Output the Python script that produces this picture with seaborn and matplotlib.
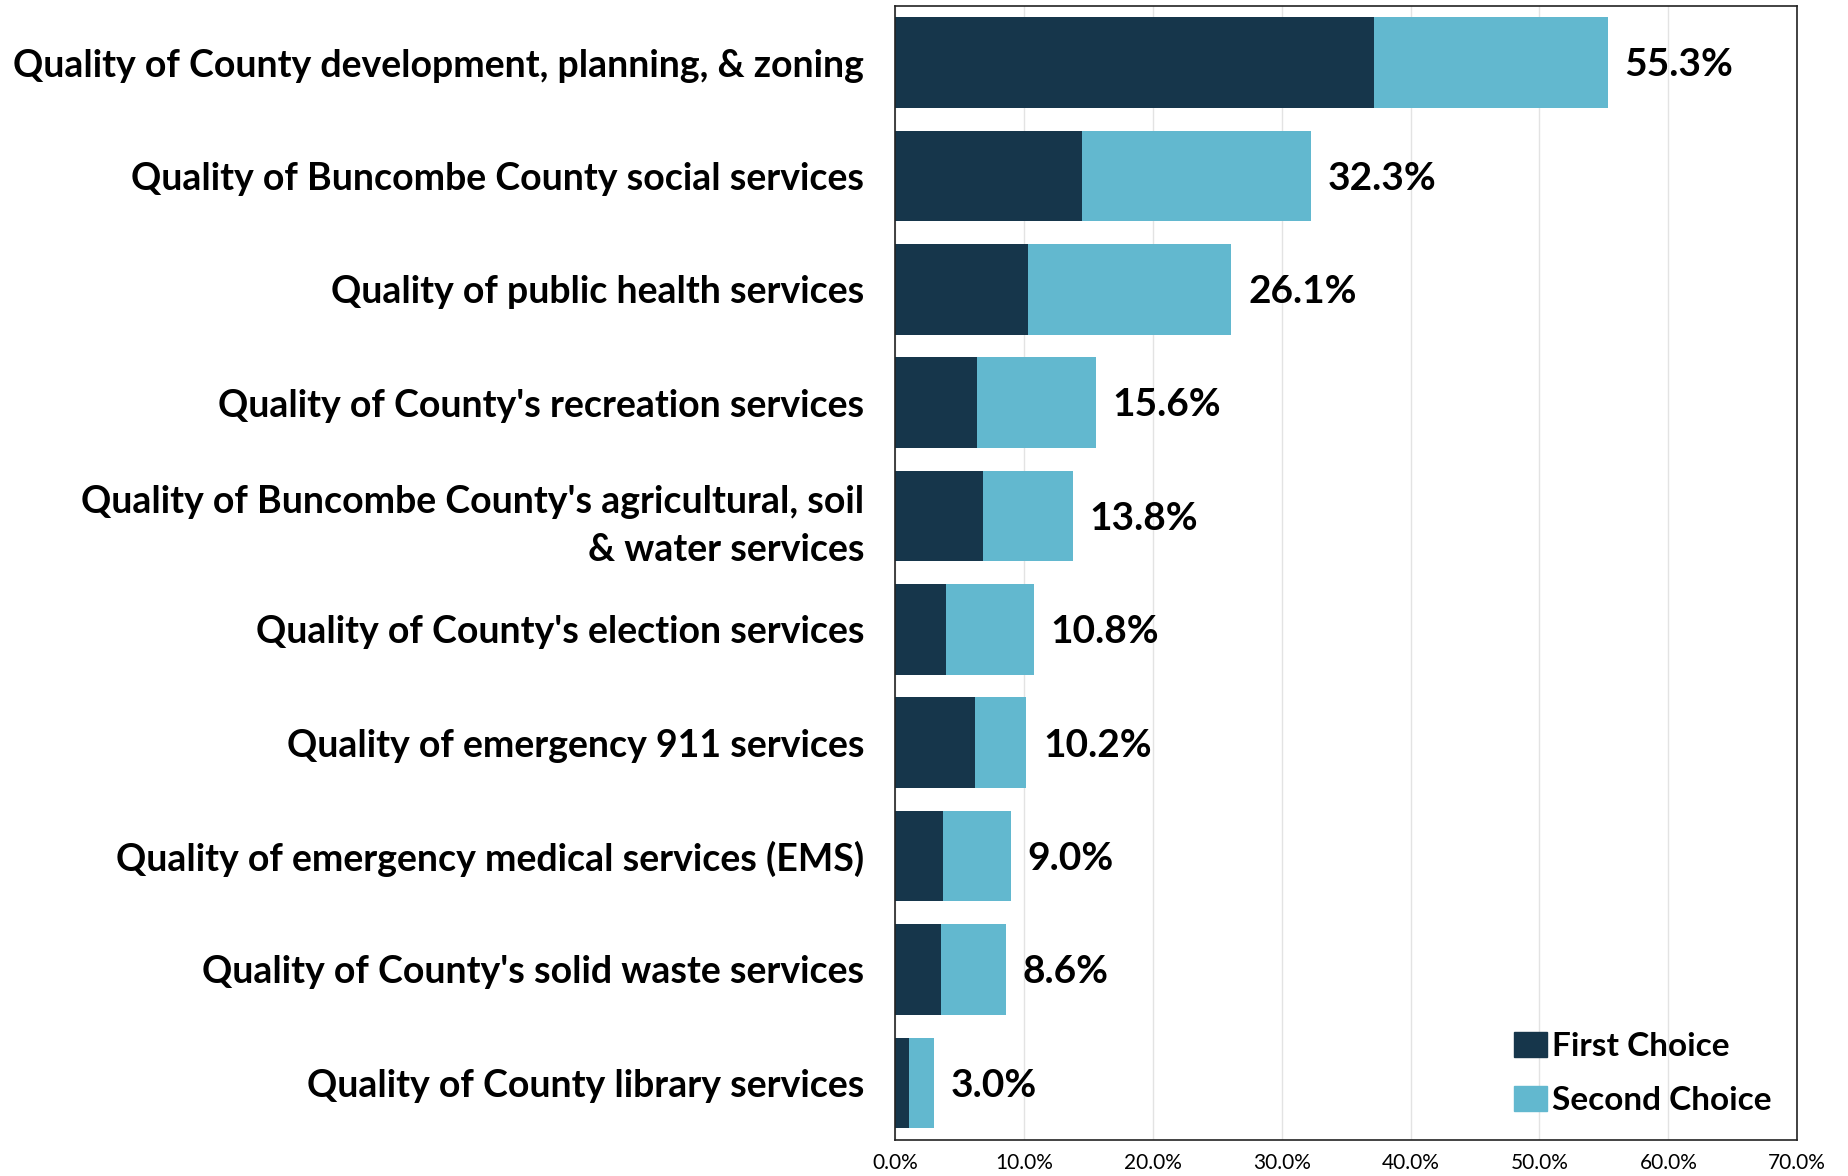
import pandas as pd
import seaborn as sns
import matplotlib.pyplot as plt
from matplotlib.patches import Patch
from matplotlib.ticker import FuncFormatter

services = [
    "Quality of County development, planning, & zoning",
    "Quality of Buncombe County social services",
    "Quality of public health services",
    "Quality of County's recreation services",
    "Quality of Buncombe County's agricultural, soil\n& water services",
    "Quality of County's election services",
    "Quality of emergency 911 services",
    "Quality of emergency medical services (EMS)",
    "Quality of County's solid waste services",
    "Quality of County library services",
]
first_choice = [37.2, 14.5, 10.3, 6.4, 6.8, 4.0, 6.2, 3.7, 3.6, 1.1]
total = [55.3, 32.3, 26.1, 15.6, 13.8, 10.8, 10.2, 9.0, 8.6, 3.0]

dark = "#16364B"
light = "#62B8CF"

df = pd.DataFrame({"service": services, "first": first_choice, "total": total})

sns.set_style("white")
plt.rcParams["font.family"] = ["Lato", "DejaVu Sans"]
plt.rcParams["text.color"] = "black"
plt.rcParams["xtick.color"] = "black"
plt.rcParams["ytick.color"] = "black"

fig = plt.figure(figsize=(18.49, 11.76), dpi=100)
ax = fig.add_axes([0.484, 0.031, 0.488, 0.964])

# stacked look: total bar behind, first choice on top
sns.barplot(data=df, x="total", y="service", color=light, saturation=1,
            width=0.8, ax=ax, orient="h", linewidth=0)
sns.barplot(data=df, x="first", y="service", color=dark, saturation=1,
            width=0.8, ax=ax, orient="h", linewidth=0)

for i, v in enumerate(total):
    ax.text(v + 1.3, i + 0.02, f"{v:.1f}%", va="center", ha="left",
            fontsize=28, fontweight="bold", color="black")

ax.set_xlim(0, 70)
ax.set_ylim(9.5, -0.5)
ax.set_xticks(range(0, 71, 10))
ax.xaxis.set_major_formatter(FuncFormatter(lambda x, _: f"{x:.1f}%"))
ax.grid(axis="x", color="#E3E3E3", linewidth=1)
ax.set_axisbelow(True)
ax.set_xlabel("")
ax.set_ylabel("")
ax.tick_params(axis="x", length=0, labelsize=15, pad=10)
ax.tick_params(axis="y", length=0, labelsize=27, pad=22)
for lbl in ax.get_yticklabels():
    lbl.set_fontweight("bold")
    lbl.set_horizontalalignment("right")
    lbl.set_multialignment("right")
    lbl.set_linespacing(1.5)
for s in ax.spines.values():
    s.set_visible(True)
    s.set_color("#222222")
    s.set_linewidth(1.2)

handles = [Patch(color=dark, label="First Choice"),
           Patch(color=light, label="Second Choice")]
leg = ax.legend(handles=handles, loc="lower right", frameon=False,
                prop={"size": 24, "weight": "bold"}, handlelength=1.0,
                handleheight=0.8, handletextpad=0.15, labelspacing=0.75,
                bbox_to_anchor=(1.005, -0.005))

fig.savefig("out.png", dpi=100)
